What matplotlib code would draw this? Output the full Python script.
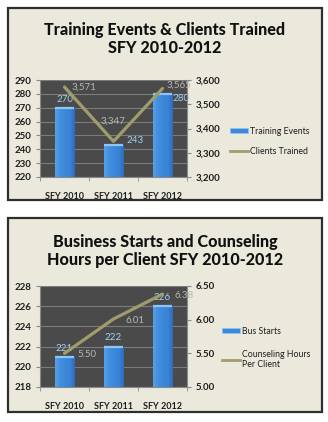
import matplotlib.pyplot as plt
import matplotlib.patches as mpatches
from matplotlib.lines import Line2D
import numpy as np

years = ["SFY 2010", "SFY 2011", "SFY 2012"]

training_events = [270, 243, 280]
clients_trained = [3571, 3347, 3565]

bus_starts = [221, 222, 226]
counseling_hours = [5.50, 6.01, 6.38]

FONT = "Lato"
PANEL_BG = "#ebe8dc"
PLOT_BG = "#4a4a4a"
GRID = "#7c7c7c"
BAR = "#3d86d8"
LINE = "#a09c6c"
BAR_LBL = "#9fd0f5"
LINE_LBL = "#b8b8b0"
TXT = "#1e1e1e"
BAR_W = 0.4

W, H = 328, 422
fig = plt.figure(figsize=(W / 100, H / 100), dpi=100)
fig.patch.set_facecolor("white")


def fx(px):
    return px / W


def fy(py):
    return 1 - py / H


def panel(top, bottom):
    r = mpatches.Rectangle((fx(8), fy(bottom)), fx(322) - fx(8), fy(top) - fy(bottom),
                           transform=fig.transFigure, facecolor=PANEL_BG,
                           edgecolor="#2e2e2e", linewidth=1.6, zorder=0)
    fig.patches.append(r)


def gradient_bars(ax, x, heights, base, width):
    bars = ax.bar(x, [h - base for h in heights], width=width, bottom=base,
                  color=BAR, zorder=3, linewidth=0)
    grad = np.linspace(0, 1, 64)
    cmap = plt.matplotlib.colors.LinearSegmentedColormap.from_list(
        "b", ["#5a9fe8", "#4290e0", "#3d88da", "#3a83d5", "#2e6cbc"])
    for b in bars:
        x0, y0 = b.get_x(), b.get_y()
        im = ax.imshow(grad[None, :], extent=(x0, x0 + b.get_width(), y0, y0 + b.get_height()),
                       aspect="auto", cmap=cmap, zorder=3.1, origin="lower")
        im.set_clip_path(b)
        ax.plot([x0, x0 + b.get_width()], [y0 + b.get_height()] * 2,
                color="#8cc6f6", lw=1.6, zorder=3.2, solid_capstyle="butt")
    return bars


def style_axes(ax, ax2):
    ax.set_facecolor(PLOT_BG)
    for s in ax.spines.values():
        s.set_visible(False)
    for s in ax2.spines.values():
        s.set_visible(False)
    ax.spines["left"].set_visible(True)
    ax.spines["left"].set_color("#8a8a8a")
    ax.spines["bottom"].set_visible(True)
    ax.spines["bottom"].set_color("#8a8a8a")
    ax2.spines["right"].set_visible(True)
    ax2.spines["right"].set_color("#8a8a8a")
    ax.yaxis.grid(True, color=GRID, lw=0.8, zorder=1)
    ax.set_axisbelow(True)
    ax.set_xlim(-0.5, 2.5)
    ax.set_xticks([0, 1, 2])
    ax.set_xticklabels(years, fontsize=6.5, color=TXT, fontfamily=FONT, fontweight="bold")
    ax.set_xticks([-0.5, 0.5, 1.5, 2.5], minor=True)
    ax.tick_params(axis="x", which="major", length=0, pad=11)
    ax.tick_params(axis="x", which="minor", length=3, color="#8a8a8a")
    ax.tick_params(axis="y", length=3, color="#8a8a8a", labelsize=7, labelcolor=TXT, pad=3)
    ax2.tick_params(axis="y", length=3, color="#8a8a8a", labelsize=7, labelcolor=TXT, pad=3)
    for lbl in ax.get_yticklabels() + ax2.get_yticklabels():
        lbl.set_fontfamily(FONT)
        lbl.set_fontweight("bold")


def legend(handles, labels, x_px, y_px, spacing):
    fig.legend(handles, labels, loc="center left",
               bbox_to_anchor=(fx(x_px), fy(y_px)), frameon=False, borderaxespad=0,
               borderpad=0, prop=dict(family=FONT, size=6.3), labelcolor=TXT,
               handlelength=2.1, handleheight=0.45, handletextpad=0.15,
               labelspacing=spacing)


lbl_kw = dict(fontsize=7, fontfamily=FONT)
x = np.arange(len(years))

# ---------- Top chart ----------
panel(8, 200)
fig.text(fx(165), fy(39), "Training Events & Clients Trained\nSFY 2010-2012",
         ha="center", va="center", fontsize=11.6, fontweight="black",
         fontfamily=FONT, color="#111111", linespacing=1.2)

ax1 = fig.add_axes([fx(40), fy(177), fx(187) - fx(40), fy(80) - fy(177)])
ax1b = ax1.twinx()
gradient_bars(ax1, x, training_events, 220, BAR_W)
ax1.set_ylim(220, 290)
ax1.set_yticks(range(220, 291, 10))
ax1b.set_ylim(3200, 3600)
ax1b.set_yticks(range(3200, 3601, 100))
ax1b.set_yticklabels([f"{v:,}" for v in range(3200, 3601, 100)])
ax1b.plot(x, clients_trained, color=LINE, lw=2.3, zorder=5, solid_capstyle="round")
style_axes(ax1, ax1b)
ax1.set_zorder(1)
ax1b.set_zorder(2)
ax1b.patch.set_visible(False)

# bar value labels: above the first bar, beside the other two
bar_pos_top = [(0, 0, 3, "center", "bottom"),
               (BAR_W / 2, 2, 3, "left", "center"),
               (BAR_W / 2, 0, -3.5, "left", "center")]
for xi, v, (ddx, ox, oy, ha, va) in zip(x, training_events, bar_pos_top):
    ax1.annotate(f"{v}", (xi + ddx, v), xytext=(ox, oy),
                 textcoords="offset points", ha=ha, va=va, color=BAR_LBL, zorder=6, **lbl_kw)
line_pos_top = [(5, 0, "left", "center"), (0, 11, "center", "bottom"), (3, 2.5, "left", "center")]
for xi, v, (ox, oy, ha, va) in zip(x, clients_trained, line_pos_top):
    ax1b.annotate(f"{v:,}", (xi, v), xytext=(ox, oy), textcoords="offset points",
                  ha=ha, va=va, color=LINE_LBL, zorder=6, **lbl_kw)

h1 = [mpatches.Patch(facecolor=BAR, edgecolor="#8cc6f6", linewidth=0.6),
      Line2D([0], [0], color=LINE, lw=2.0)]
legend(h1, ["Training Events", "Clients Trained"], 230, 141.5, 1.3)

# ---------- Bottom chart ----------
panel(218, 412)
fig.text(fx(165), fy(251), "Business Starts and Counseling\nHours per Client SFY 2010-2012",
         ha="center", va="center", fontsize=11.6, fontweight="black",
         fontfamily=FONT, color="#111111", linespacing=1.2)

ax2 = fig.add_axes([fx(40), fy(387), fx(187) - fx(40), fy(286) - fy(387)])
ax2b = ax2.twinx()
gradient_bars(ax2, x, bus_starts, 218, BAR_W)
ax2.set_ylim(218, 228)
ax2.set_yticks(range(218, 229, 2))
ax2b.set_ylim(5.0, 6.5)
ax2b.set_yticks([5.0, 5.5, 6.0, 6.5])
ax2b.set_yticklabels([f"{v:.2f}" for v in [5.0, 5.5, 6.0, 6.5]])
ax2b.plot(x, counseling_hours, color=LINE, lw=2.3, zorder=5, solid_capstyle="round")
style_axes(ax2, ax2b)
ax2.set_zorder(1)
ax2b.set_zorder(2)
ax2b.patch.set_visible(False)

for xi, v in zip(x, bus_starts):
    ax2.annotate(f"{v}", (xi, v), xytext=(0, 3), textcoords="offset points",
                 ha="center", va="bottom", color=BAR_LBL, zorder=6, **lbl_kw)
for xi, v in zip(x, counseling_hours):
    ax2b.annotate(f"{v:.2f}", (xi, v), xytext=(9, -1), textcoords="offset points",
                  ha="left", va="center", color=LINE_LBL, zorder=6, **lbl_kw)

h2 = [mpatches.Patch(facecolor=BAR, edgecolor="#8cc6f6", linewidth=0.6),
      Line2D([0], [0], color=LINE, lw=2.0)]
legend(h2, ["Bus Starts", "Counseling Hours\nPer Client"], 222, 348, 1.6)

fig.savefig("out.png", dpi=100, facecolor="white")
